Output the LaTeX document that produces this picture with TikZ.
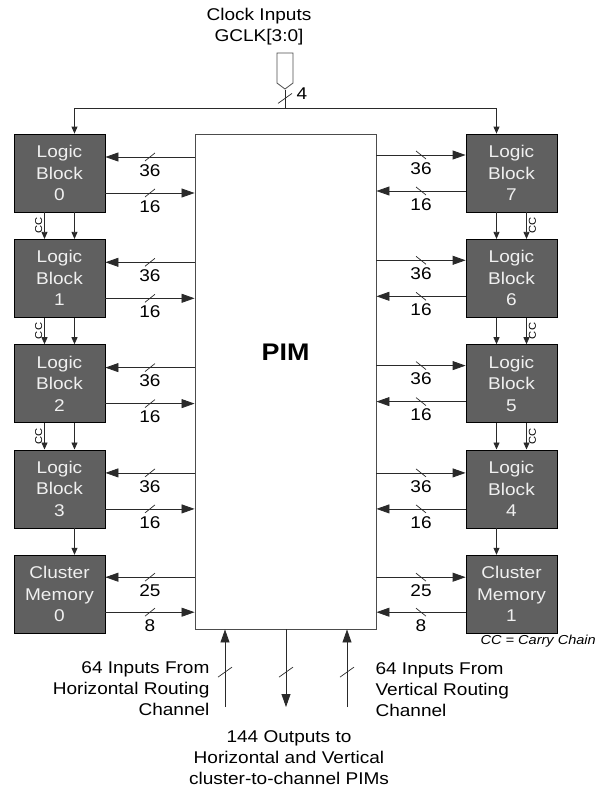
\documentclass[tikz,border=0pt]{standalone}
\usepackage{fontspec}
\setmainfont{Liberation Sans}[FakeStretch=1.12]
\usetikzlibrary{arrows.meta,positioning,shapes.symbols,decorations.markings}
\definecolor{blockgray}{HTML}{606060}
\definecolor{linegray}{HTML}{2A2A2A}

\begin{document}
\begin{tikzpicture}[
  x=1pt, y=-1pt,
  font=\fontsize{17}{21.5}\selectfont,
  node distance=26.5pt,
  lblock/.style={draw=black, fill=blockgray, text=white!94!black, minimum width=91pt, minimum height=78pt, inner sep=0pt, align=center, line width=0.8pt},
  pimbox/.style={draw=black!70, minimum width=181pt, minimum height=495pt, line width=0.9pt},
  bus/.style={-{Triangle[length=13pt,width=9pt]}, line width=0.8pt, draw=linegray},
  link/.style={-{Triangle[length=7pt,width=6pt]}, line width=0.8pt, draw=linegray},
  num/.style={below=5pt, inner sep=2pt},
  cc/.style={font=\fontsize{10}{10}\selectfont, rotate=90, inner sep=2pt, midway},
  note/.style={font=\fontsize{17}{21}\selectfont},
  tickL/.style={postaction={decorate, decoration={markings, mark=at position 0.5 with {\pgftransformresetnontranslations \draw[-, line width=0.7pt] (-5pt,-4pt) -- (5pt,4pt);}}}},
  tickR/.style={postaction={decorate, decoration={markings, mark=at position 0.5 with {\pgftransformresetnontranslations \draw[-, line width=0.7pt] (-5pt,4pt) -- (5pt,-4pt);}}}},
  tickV/.style={postaction={decorate, decoration={markings, mark=at position #1 with {\pgftransformresetnontranslations \draw[-, line width=0.7pt] (-7pt,-5pt) -- (7pt,5pt);}}}},
  tickV/.default=0.5
]
\useasboundingbox (0,0) rectangle (598,788);

% clock input
\node[note, align=center] (clktxt) at (259,27) {Clock Inputs\\GCLK[3:0]};
\node[signal, signal to=south, signal from=nowhere, signal pointer angle=106, draw=black!70, line width=0.8pt, minimum width=16pt, minimum height=30pt, inner sep=0pt] (pad) at (285,68) {};
\coordinate (clk) at (285,108);

% logic blocks
\node[lblock] (lb0) at (59.5,173) {Logic\\Block\\0};
\node[lblock, below=of lb0] (lb1) {Logic\\Block\\1};
\node[lblock, below=of lb1] (lb2) {Logic\\Block\\2};
\node[lblock, below=of lb2] (lb3) {Logic\\Block\\3};
\node[lblock, below=of lb3] (cm0) {Cluster\\Memory\\0};
\node[lblock] (lb7) at (511.5,173) {Logic\\Block\\7};
\node[lblock, below=of lb7] (lb6) {Logic\\Block\\6};
\node[lblock, below=of lb6] (lb5) {Logic\\Block\\5};
\node[lblock, below=of lb5] (lb4) {Logic\\Block\\4};
\node[lblock, below=of lb4] (cm1) {Cluster\\Memory\\1};

\node[pimbox, label={[font=\bfseries\fontsize{24}{24}\selectfont, yshift=29.5pt]center:PIM}] (pim) at (285.5,381.5) {};

% clock distribution
\draw[line width=0.8pt, draw=linegray, tickV=0.48] (pad.south) -- node[pos=0.2, right=8pt]{4} (clk);
\draw[link] (clk) -| ([xshift=15pt]lb0.north);
\draw[link] (clk) -| ([xshift=-15pt]lb7.north);

% left buses
\draw[bus, tickL] ([yshift=16pt]lb0.east -| pim.west) -- node[num]{36} ([yshift=16pt]lb0.east);
\draw[bus, tickL] ([yshift=-20pt]lb0.east) -- node[num]{16} ([yshift=-20pt]lb0.east -| pim.west);
\draw[bus, tickL] ([yshift=16pt]lb1.east -| pim.west) -- node[num]{36} ([yshift=16pt]lb1.east);
\draw[bus, tickL] ([yshift=-20pt]lb1.east) -- node[num]{16} ([yshift=-20pt]lb1.east -| pim.west);
\draw[bus, tickL] ([yshift=16pt]lb2.east -| pim.west) -- node[num]{36} ([yshift=16pt]lb2.east);
\draw[bus, tickL] ([yshift=-20pt]lb2.east) -- node[num]{16} ([yshift=-20pt]lb2.east -| pim.west);
\draw[bus, tickL] ([yshift=16pt]lb3.east -| pim.west) -- node[num]{36} ([yshift=16pt]lb3.east);
\draw[bus, tickL] ([yshift=-20pt]lb3.east) -- node[num]{16} ([yshift=-20pt]lb3.east -| pim.west);
\draw[bus, tickL] ([yshift=17pt]cm0.east -| pim.west) -- node[num]{25} ([yshift=17pt]cm0.east);
\draw[bus, tickL] ([yshift=-18pt]cm0.east) -- node[num]{8} ([yshift=-18pt]cm0.east -| pim.west);

% right buses
\draw[bus, tickR] ([yshift=18pt]lb7.west -| pim.east) -- node[num]{36} ([yshift=18pt]lb7.west);
\draw[bus, tickR] ([yshift=-18pt]lb7.west) -- node[num]{16} ([yshift=-18pt]lb7.west -| pim.east);
\draw[bus, tickR] ([yshift=18pt]lb6.west -| pim.east) -- node[num]{36} ([yshift=18pt]lb6.west);
\draw[bus, tickR] ([yshift=-18pt]lb6.west) -- node[num]{16} ([yshift=-18pt]lb6.west -| pim.east);
\draw[bus, tickR] ([yshift=18pt]lb5.west -| pim.east) -- node[num]{36} ([yshift=18pt]lb5.west);
\draw[bus, tickR] ([yshift=-18pt]lb5.west) -- node[num]{16} ([yshift=-18pt]lb5.west -| pim.east);
\draw[bus, tickR] ([yshift=16pt]lb4.west -| pim.east) -- node[num]{36} ([yshift=16pt]lb4.west);
\draw[bus, tickR] ([yshift=-20pt]lb4.west) -- node[num]{16} ([yshift=-20pt]lb4.west -| pim.east);
\draw[bus, tickR] ([yshift=17pt]cm1.west -| pim.east) -- node[num]{25} ([yshift=17pt]cm1.west);
\draw[bus, tickR] ([yshift=-18pt]cm1.west) -- node[num]{8} ([yshift=-18pt]cm1.west -| pim.east);

% carry chains and block links
\draw[link] ([xshift=-15pt]lb0.south) -- node[cc, anchor=south]{CC} ([xshift=-15pt]lb1.north);
\draw[link] ([xshift=15pt]lb0.south) -- ([xshift=15pt]lb1.north);
\draw[link] ([xshift=-15pt]lb1.south) -- node[cc, anchor=south]{CC} ([xshift=-15pt]lb2.north);
\draw[link] ([xshift=15pt]lb1.south) -- ([xshift=15pt]lb2.north);
\draw[link] ([xshift=-15pt]lb2.south) -- node[cc, anchor=south]{CC} ([xshift=-15pt]lb3.north);
\draw[link] ([xshift=15pt]lb2.south) -- ([xshift=15pt]lb3.north);
\draw[link] ([xshift=15pt]lb3.south) -- ([xshift=15pt]cm0.north);
\draw[link] ([xshift=15pt]lb7.south) -- node[cc, anchor=north]{CC} ([xshift=15pt]lb6.north);
\draw[link] ([xshift=-15pt]lb7.south) -- ([xshift=-15pt]lb6.north);
\draw[link] ([xshift=15pt]lb6.south) -- node[cc, anchor=north]{CC} ([xshift=15pt]lb5.north);
\draw[link] ([xshift=-15pt]lb6.south) -- ([xshift=-15pt]lb5.north);
\draw[link] ([xshift=15pt]lb5.south) -- node[cc, anchor=north]{CC} ([xshift=15pt]lb4.north);
\draw[link] ([xshift=-15pt]lb5.south) -- ([xshift=-15pt]lb4.north);
\draw[link] ([xshift=-15pt]lb4.south) -- ([xshift=-15pt]cm1.north);

\node[anchor=west, font=\itshape\fontsize{13}{13}\selectfont] (cckey) at (477,641) {CC = Carry Chain};

% routing channel ports
\coordinate (hin) at (225,707);
\coordinate (cout) at (286,707);
\coordinate (vin) at (347,707);
\draw[bus, tickV=0.45] (hin) -- (hin |- pim.south);
\draw[bus, tickV=0.55] (cout |- pim.south) -- (cout);
\draw[bus, tickV=0.45] (vin) -- (vin |- pim.south);

\node[note, align=right, anchor=east] (hnote) at (213,689) {64 Inputs From\\Horizontal Routing\\Channel};
\node[note, align=left, anchor=west] (vnote) at (372,690) {64 Inputs From\\Vertical Routing\\Channel};
\node[note, align=center] (onote) at (289,758) {144 Outputs to\\Horizontal and Vertical\\cluster-to-channel PIMs};
\end{tikzpicture}
\end{document}
